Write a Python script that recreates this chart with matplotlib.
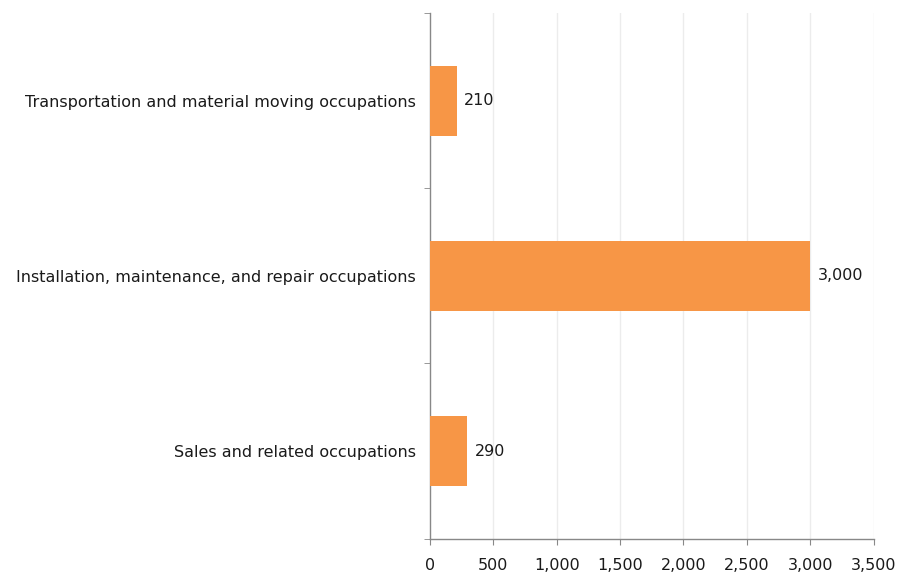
import matplotlib
matplotlib.use("Agg")
import matplotlib.pyplot as plt
from matplotlib.ticker import FuncFormatter, FixedLocator

categories = ["Sales and related occupations",
              "Installation, maintenance, and repair occupations",
              "Transportation and material moving occupations"]
values = [290, 3000, 210]
xticks = [0, 500, 1000, 1500, 2000, 2500, 3000, 3500]

FS = 11.5
plt.rcParams['font.family'] = ['DejaVu Sans']
fig = plt.figure(figsize=(9.15, 5.74), dpi=100)
ax = fig.add_axes([430/915, 1-538.7/574, (873.5-430)/915, (538.7-13)/574])

ypos = list(range(len(categories)))
ax.barh(ypos, values, height=0.4, color="#F79646", zorder=3)
for y, v in zip(ypos, values):
    ax.annotate(f"{v:,}", (v, y), xytext=(5.5, 0), textcoords="offset points",
                va="center", ha="left", fontsize=FS, color="#1a1a1a")

ax.set_xlim(0, 3500)
ax.set_ylim(-0.5, len(categories)-0.5)
ax.set_xticks(xticks)
ax.xaxis.set_major_formatter(FuncFormatter(lambda v, p: f"{int(v):,}"))
ax.set_yticks(ypos)
ax.set_yticklabels(categories)
ax.yaxis.set_minor_locator(FixedLocator([-0.5, 0.5, 1.5, 2.5]))

for x in xticks[1:]:
    ax.axvline(x, color="#ececec", lw=1, zorder=1)

for s in ["top", "right"]:
    ax.spines[s].set_visible(False)
for s in ["left", "bottom"]:
    ax.spines[s].set_color("#888888")
    ax.spines[s].set_linewidth(1)

ax.tick_params(axis="x", length=4, color="#888888", pad=10, labelsize=FS, labelcolor="#1a1a1a")
ax.tick_params(axis="y", which="major", length=0, pad=10, labelsize=FS, labelcolor="#1a1a1a")
ax.tick_params(axis="y", which="minor", length=4, color="#888888")

fig.savefig("out.png", dpi=100)
